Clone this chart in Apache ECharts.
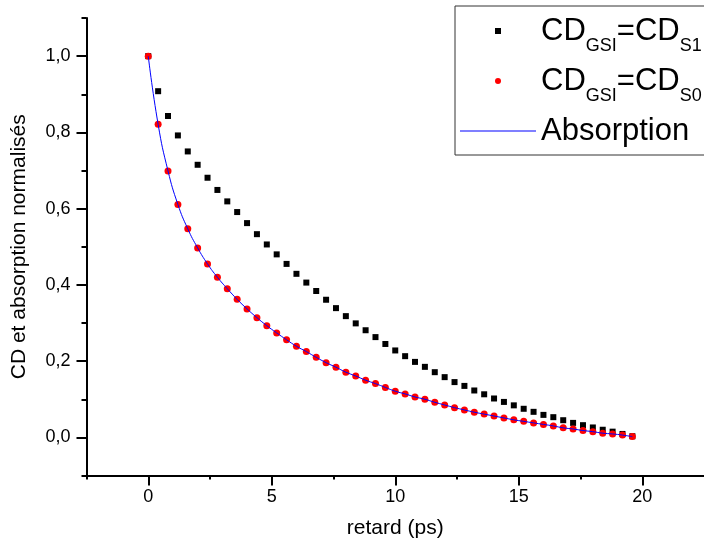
<!DOCTYPE html>
<html><head><meta charset="utf-8">
<script src="https://cdn.jsdelivr.net/npm/echarts@6/dist/echarts.min.js"></script>
<style>html,body{margin:0;padding:0;background:#fff}#c{width:704px;height:549px}</style>
</head><body><div id="c"></div>
<script>
// delay (ps)
const delays = [0, 0.4, 0.8, 1.2, 1.6, 2, 2.4, 2.8, 3.2, 3.6, 4, 4.4, 4.8, 5.2, 5.6, 6, 6.4, 6.8, 7.2, 7.6,
  8, 8.4, 8.8, 9.2, 9.6, 10, 10.4, 10.8, 11.2, 11.6, 12, 12.4, 12.8, 13.2, 13.6, 14, 14.4, 14.8, 15.2, 15.6,
  16, 16.4, 16.8, 17.2, 17.6, 18, 18.4, 18.8, 19.2, 19.6];
// CD_GSI = CD_S1 (black squares)
const cdS1 = [1.0, 0.908, 0.843, 0.792, 0.750, 0.715, 0.681, 0.649, 0.619, 0.591,
  0.562, 0.533, 0.506, 0.480, 0.455, 0.429, 0.406, 0.384, 0.361, 0.339,
  0.318, 0.299, 0.281, 0.263, 0.245, 0.228, 0.213, 0.198, 0.185, 0.171,
  0.158, 0.145, 0.135, 0.123, 0.113, 0.102, 0.093, 0.084, 0.075, 0.067,
  0.059, 0.053, 0.045, 0.038, 0.032, 0.026, 0.020, 0.015, 0.009, 0.003];
// CD_GSI = CD_S0 (red dots)
const cdS0 = [1.0, 0.821, 0.699, 0.611, 0.547, 0.497, 0.455, 0.420, 0.390, 0.362,
  0.337, 0.314, 0.293, 0.274, 0.256, 0.239, 0.225, 0.210, 0.196, 0.184,
  0.171, 0.161, 0.150, 0.141, 0.131, 0.121, 0.114, 0.106, 0.100, 0.092,
  0.085, 0.078, 0.072, 0.066, 0.061, 0.056, 0.051, 0.046, 0.042, 0.038,
  0.034, 0.030, 0.025, 0.022, 0.018, 0.015, 0.011, 0.009, 0.006, 0.002];
// Absorption (blue line)
const absorption = [1.0, 0.821, 0.699, 0.611, 0.547, 0.497, 0.455, 0.420, 0.390, 0.362,
  0.337, 0.314, 0.293, 0.274, 0.256, 0.239, 0.225, 0.210, 0.196, 0.184,
  0.171, 0.161, 0.150, 0.141, 0.131, 0.121, 0.114, 0.106, 0.100, 0.092,
  0.085, 0.078, 0.072, 0.066, 0.061, 0.056, 0.051, 0.046, 0.042, 0.038,
  0.034, 0.030, 0.025, 0.022, 0.018, 0.015, 0.011, 0.009, 0.006, 0.002];

const xTickLabels = [0, 5, 10, 15, 20];
const xMinorTicks = [-2.5, 2.5, 7.5, 12.5, 17.5];
const yTickLabels = [0, 0.2, 0.4, 0.6, 0.8, 1.0];
const yMinorTicks = [-0.1, 0.1, 0.3, 0.5, 0.7, 0.9, 1.1];

const FONT = 'Liberation Sans, Arial, sans-serif';
const pair = (xs, ys) => xs.map((x, i) => [x, ys[i]]);

const legendText = {
  'CDs1': '{m|CD}{s|GSI}{m|=CD}{s|S1}',
  'CDs0': '{m|CD}{s|GSI}{m|=CD}{s|S0}',
  'Absorption': '{m|Absorption}{s| }'
};

const chart = echarts.init(document.getElementById('c'), null, {renderer: 'canvas'});
const axLine = {show: true, onZero: false, lineStyle: {color: '#000', width: 2}};
chart.setOption({
  animation: false,
  backgroundColor: '#fff',
  textStyle: {fontFamily: FONT},
  grid: {left: 86.5, right: -1.5, top: 18, bottom: 73.5, containLabel: false},
  legend: {
    orient: 'vertical', align: 'left', left: 455, top: 6,
    padding: [1, 40, 0, 5], itemGap: 2, itemWidth: 76, itemHeight: 6,
    borderColor: '#333', borderWidth: 1, backgroundColor: '#fff',
    data: [
      {name: 'CDs1', icon: 'path://M0,0L1,0L1,1L0,1Z'},
      {name: 'CDs0', icon: 'circle'},
      {name: 'Absorption', icon: 'path://M0,0L72,0L72,1L0,1Z'}
    ],
    formatter: n => legendText[n],
    textStyle: {
      color: '#000', fontFamily: FONT,
      rich: {
        m: {fontSize: 31, lineHeight: 32, color: '#000', fontFamily: FONT},
        s: {fontSize: 18, lineHeight: 18, padding: [30, 0, 0, 0], color: '#000', fontFamily: FONT}
      }
    }
  },
  xAxis: [{
    type: 'value', min: -2.5, max: 22.5, interval: 2.5,
    name: 'retard (ps)', nameLocation: 'middle', nameGap: 42,
    nameTextStyle: {fontSize: 21, color: '#000', fontFamily: FONT},
    axisLine: axLine,
    axisTick: {show: true, inside: false, length: 10, customValues: xTickLabels, lineStyle: {color: '#000', width: 2}},
    axisLabel: {show: true, margin: 13, fontSize: 18, color: '#000', fontFamily: FONT, customValues: xTickLabels},
    splitLine: {show: false}
  }, {
    type: 'value', min: -2.5, max: 22.5, interval: 2.5, position: 'bottom',
    axisLine: {show: false, onZero: false},
    axisTick: {show: true, length: 4, customValues: xMinorTicks, lineStyle: {color: '#000', width: 2}},
    axisLabel: {show: false},
    splitLine: {show: false}
  }],
  yAxis: [{
    type: 'value', min: -0.1, max: 1.1, interval: 0.1,
    name: 'CD et absorption normalisés', nameLocation: 'middle', nameGap: 57, nameRotate: 90,
    nameTextStyle: {fontSize: 21, color: '#000', fontFamily: FONT},
    axisLine: axLine,
    axisTick: {show: true, length: 10, customValues: yTickLabels, lineStyle: {color: '#000', width: 2}},
    axisLabel: {show: true, margin: 16, fontSize: 18, color: '#000', fontFamily: FONT, customValues: yTickLabels,
      formatter: v => v.toFixed(1).replace('.', ',')},
    splitLine: {show: false}
  }, {
    type: 'value', min: -0.1, max: 1.1, interval: 0.1, position: 'left',
    axisLine: {show: false, onZero: false},
    axisTick: {show: true, length: 5, customValues: yMinorTicks, lineStyle: {color: '#000', width: 2}},
    axisLabel: {show: false},
    splitLine: {show: false}
  }],
  series: [{
    name: 'CDs1', type: 'scatter', data: pair(delays, cdS1),
    symbol: 'rect', symbolSize: 6, itemStyle: {color: '#000', opacity: 1}, z: 2
  }, {
    name: 'CDs0', type: 'scatter', data: pair(delays, cdS0),
    symbol: 'circle', symbolSize: 7, itemStyle: {color: '#ff0000', opacity: 1}, z: 3
  }, {
    name: 'Absorption', type: 'line', data: pair(delays, absorption),
    smooth: true, symbol: 'none', showSymbol: false,
    lineStyle: {color: '#0000ff', width: 1}, itemStyle: {color: '#0000ff'}, z: 4
  }]
});
</script></body></html>
